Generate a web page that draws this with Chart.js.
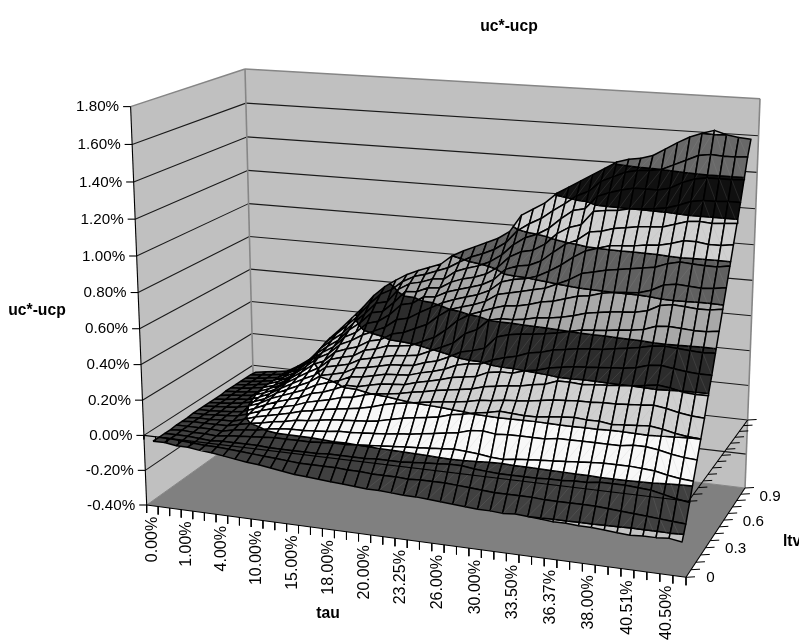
<!DOCTYPE html>
<html>
<head>
<meta charset="utf-8">
<title>uc*-ucp</title>
<script src="https://cdn.jsdelivr.net/npm/chart.js@4/dist/chart.umd.min.js"></script>
<style>
    html, body { margin: 0; padding: 0; background: #fff; overflow: hidden; }
    #wrap { width: 799px; height: 641px; }
</style>
</head>
<body>
<div id="wrap"><canvas id="chart" width="799" height="641"></canvas></div>
<script>
// tau labels sit on every third category, 44 categories in all
const tauLabels = ['0.00%', '1.00%', '4.00%', '10.00%', '15.00%', '18.00%', '20.00%', '23.25%', '26.00%', '30.00%', '33.50%', '36.37%', '38.00%', '40.51%', '40.50%']
const ltvLabels = ['0', '0.3', '0.6', '0.9']
const valueTicks = [1.8, 1.6, 1.4, 1.2, 1.0, 0.8, 0.6, 0.4, 0.2, 0.0, -0.2, -0.4]

// surface values in percent, one array per tau category, ltv running front to back
const tau00 = [-.04,-.04,-.04,-.04,-.035,-.035,-.035,-.03,-.03,-.03,-.03,-.03,-.03,-.025,-.025,-.025,-.025,-.025,-.025,-.03]
const tau01 = [-.04,-.04,-.04,-.035,-.035,-.03,-.03,-.03,-.03,-.025,-.025,-.025,-.02,-.02,-.02,-.02,-.02,-.02,-.02,-.02]
const tau02 = [-.05,-.045,-.04,-.04,-.035,-.03,-.03,-.025,-.025,-.02,-.02,-.015,-.015,-.015,-.01,-.01,-.01,-.01,-.01,-.01]
const tau03 = [-.05,-.05,-.045,-.04,-.035,-.03,-.025,-.02,-.02,-.015,-.01,-.01,-.005,-.005,0,0,0,0,0,0]
const tau04 = [-.06,-.055,-.05,-.045,-.04,-.03,-.025,-.015,-.01,0,.005,.01,.015,.02,.02,.025,.03,.035,.035,.04]
const tau05 = [-.065,-.055,-.045,-.035,-.025,-.015,-.005,.005,.015,.025,.03,.04,.045,.05,.055,.06,.065,.07,.08,.085]
const tau06 = [-.075,-.06,-.045,-.03,-.015,0,.015,.03,.045,.06,.07,.08,.09,.10,.11,.12,.125,.135,.14,.15]
const tau07 = [-.085,-.065,-.045,-.025,-.01,.01,.03,.05,.07,.085,.10,.115,.13,.145,.16,.175,.195,.21,.225,.235]
const tau08 = [-.095,-.07,-.045,-.02,.005,.025,.045,.07,.09,.11,.13,.15,.17,.195,.215,.23,.245,.265,.285,.30]
const tau09 = [-.10,-.075,-.05,-.015,.015,.035,.06,.085,.11,.135,.16,.18,.205,.225,.25,.27,.29,.315,.345,.37]
const tau10 = [-.11,-.08,-.05,-.015,.02,.05,.08,.11,.14,.17,.205,.235,.26,.285,.31,.335,.36,.385,.41,.44]
const tau11 = [-.12,-.085,-.05,-.015,.02,.055,.09,.125,.155,.19,.22,.25,.28,.31,.34,.37,.41,.445,.485,.52]
const tau12 = [-.13,-.09,-.05,-.015,.025,.065,.105,.14,.18,.21,.235,.265,.295,.33,.38,.43,.475,.515,.55,.58]
const tau13 = [-.135,-.09,-.05,-.01,.03,.075,.115,.16,.21,.24,.27,.30,.335,.37,.41,.45,.49,.53,.585,.625]
const tau14 = [-.14,-.09,-.045,-.005,.04,.08,.125,.17,.21,.245,.28,.315,.35,.385,.44,.495,.55,.61,.64,.665]
const tau15 = [-.145,-.09,-.045,-.005,.04,.085,.135,.19,.225,.26,.295,.33,.375,.425,.49,.56,.62,.65,.675,.695]
const tau16 = [-.15,-.095,-.045,0,.045,.09,.15,.205,.24,.275,.31,.345,.38,.44,.505,.575,.625,.665,.695,.72]
const tau17 = [-.155,-.095,-.045,.005,.05,.10,.17,.21,.245,.28,.315,.35,.39,.47,.545,.62,.655,.69,.72,.745]
const tau18 = [-.16,-.10,-.04,.01,.055,.115,.185,.22,.25,.285,.32,.36,.42,.50,.58,.625,.66,.695,.745,.80]
const tau19 = [-.16,-.10,-.04,.015,.065,.13,.195,.235,.27,.305,.345,.39,.45,.555,.615,.66,.70,.745,.785,.835]
const tau20 = [-.165,-.10,-.04,.02,.07,.14,.205,.245,.285,.32,.36,.42,.50,.60,.64,.68,.725,.77,.82,.865]
const tau21 = [-.17,-.105,-.035,.025,.08,.15,.215,.26,.30,.34,.39,.45,.56,.62,.66,.70,.74,.79,.845,.895]
const tau22 = [-.17,-.10,-.03,.03,.09,.16,.225,.27,.32,.37,.425,.51,.60,.64,.68,.72,.765,.82,.875,.925]
const tau23 = [-.175,-.10,-.025,.035,.10,.18,.23,.28,.33,.385,.44,.54,.625,.665,.71,.755,.81,.865,.92,.97]
const tau24 = [-.18,-.10,-.02,.04,.11,.19,.24,.29,.34,.39,.46,.60,.65,.71,.765,.82,.875,.93,.995,1.07]
const tau25 = [-.185,-.105,-.02,.035,.13,.205,.255,.31,.37,.42,.53,.615,.67,.725,.785,.845,.91,.975,1.04,1.11]
const tau26 = [-.19,-.11,-.03,.03,.135,.215,.26,.32,.38,.44,.55,.615,.675,.74,.795,.855,.925,1.0,1.075,1.15]
const tau27 = [-.195,-.115,-.035,.02,.125,.23,.27,.33,.38,.455,.56,.625,.69,.755,.815,.885,.965,1.04,1.125,1.21]
const tau28 = [-.195,-.12,-.04,.015,.13,.225,.275,.335,.40,.48,.565,.64,.71,.77,.85,.94,1.03,1.10,1.17,1.25]
const tau29 = [-.20,-.12,-.04,.025,.13,.22,.28,.35,.41,.49,.575,.645,.72,.80,.89,.99,1.07,1.15,1.22,1.29]
const tau30 = [-.195,-.12,-.04,.03,.13,.22,.29,.36,.43,.51,.585,.655,.74,.83,.94,1.02,1.09,1.165,1.25,1.33]
const tau31 = [-.20,-.12,-.04,.035,.13,.23,.30,.385,.44,.52,.60,.67,.76,.87,.98,1.07,1.17,1.24,1.31,1.37]
const tau32 = [-.205,-.125,-.035,.04,.14,.235,.305,.385,.45,.53,.615,.69,.77,.885,1.0,1.08,1.18,1.265,1.34,1.41]
const tau33 = [-.21,-.125,-.035,.045,.14,.24,.31,.38,.455,.535,.62,.70,.79,.90,1.02,1.10,1.185,1.285,1.37,1.43]
const tau34 = [-.21,-.125,-.03,.05,.14,.235,.31,.385,.46,.54,.625,.71,.80,.91,1.025,1.11,1.20,1.30,1.385,1.44]
const tau35 = [-.215,-.125,-.03,.055,.14,.235,.315,.39,.465,.55,.635,.715,.805,.92,1.03,1.12,1.205,1.30,1.39,1.46]
const tau36 = [-.215,-.125,-.02,.06,.14,.225,.315,.395,.47,.56,.64,.72,.81,.93,1.04,1.125,1.21,1.30,1.40,1.50]
const tau37 = [-.22,-.13,-.02,.06,.14,.23,.32,.40,.48,.57,.65,.735,.83,.94,1.045,1.13,1.22,1.315,1.43,1.54]
const tau38 = [-.225,-.135,-.02,.06,.15,.235,.325,.41,.50,.585,.675,.77,.865,.965,1.06,1.15,1.24,1.35,1.46,1.575]
const tau39 = [-.23,-.14,-.025,.055,.15,.24,.33,.42,.505,.59,.68,.78,.875,.98,1.08,1.17,1.265,1.375,1.49,1.60]
const tau40 = [-.225,-.145,-.03,.05,.14,.23,.32,.41,.495,.585,.675,.775,.87,.975,1.08,1.175,1.275,1.385,1.50,1.62]
const tau41 = [-.225,-.15,-.045,.035,.125,.215,.305,.395,.485,.58,.67,.77,.865,.97,1.07,1.17,1.275,1.385,1.495,1.60]
const tau42 = [-.22,-.155,-.06,.025,.115,.205,.295,.39,.48,.575,.67,.77,.87,.97,1.07,1.175,1.28,1.385,1.495,1.59]
const tau43 = [-.23,-.16,-.07,.02,.11,.20,.29,.39,.48,.58,.68,.78,.88,.98,1.08,1.18,1.28,1.39,1.50,1.585]

const surface = [tau00, tau01, tau02, tau03, tau04, tau05, tau06, tau07, tau08, tau09, tau10, tau11, tau12, tau13, tau14, tau15, tau16, tau17, tau18, tau19, tau20, tau21,
    tau22, tau23, tau24, tau25, tau26, tau27, tau28, tau29, tau30, tau31, tau32, tau33, tau34, tau35, tau36, tau37, tau38, tau39, tau40, tau41, tau42, tau43]

// one shade per 0.2% band, lowest band first
const bandColors = ['#c4c4c4', '#404040', '#f8f8f8', '#d0d0d0', '#2c2c2c', '#a8a8a8', '#606060', '#d0d0d0', '#101010', '#686868', '#b4b4b4']
const zMin = -0.4
const zMax = 1.8
const bandStep = 0.2

const ltvTickCount = 13
const fontName = '"Liberation Sans", Arial, sans-serif'

// box corners in canvas pixels: floor and ceiling of the 3d box
const floorCorners = [[146.7, 505], [686, 577.3], [745, 488], [254.5, 428]]
const ceilCorners = [[130.6, 106.6], [699.5, 142], [760, 98.7], [245, 69]]

function make_homography(q) {
    let [x0, y0] = q[0], [x1, y1] = q[1], [x2, y2] = q[2], [x3, y3] = q[3]
    let dx1 = x1 - x2, dx2 = x3 - x2, sx = x0 - x1 + x2 - x3
    let dy1 = y1 - y2, dy2 = y3 - y2, sy = y0 - y1 + y2 - y3
    let den = dx1 * dy2 - dx2 * dy1
    let g = (sx * dy2 - dx2 * sy) / den
    let h = (dx1 * sy - sx * dy1) / den
    let a = x1 - x0 + g * x1, b = x3 - x0 + h * x3
    let d = y1 - y0 + g * y1, e = y3 - y0 + h * y3
    return (u, v) => {
        let w = g * u + h * v + 1
        return [(a * u + b * v + x0) / w, (d * u + e * v + y0) / w]
    }
}

const floorMap = make_homography(floorCorners)
const ceilMap = make_homography(ceilCorners)

// u along tau, v along ltv, z is the value in percent
function project(u, v, z) {
    let w = (z - zMin) / (zMax - zMin)
    let t = w / (w + 1.05 * (1 - w))
    let f = floorMap(u, v), c = ceilMap(u, v)
    return { x: f[0] + (c[0] - f[0]) * t, y: f[1] + (c[1] - f[1]) * t }
}

const marks = []

function add_shape(points, fillColor, lineColor, lineWidth) {
    let data = points.slice()
    data.push(points[0])
    marks.push({
        data: data,
        showLine: true,
        pointRadius: 0,
        fill: 'shape',
        backgroundColor: fillColor,
        borderColor: lineColor || fillColor,
        borderWidth: lineWidth || 0,
        borderJoinStyle: 'round'
    })
}

function add_line(a, b, color, width) {
    marks.push({
        data: [a, b],
        showLine: true,
        pointRadius: 0,
        fill: false,
        borderColor: color,
        borderWidth: width
    })
}

function clip_band(poly, level, keepAbove) {
    let out = []
    for (let i = 0; i < poly.length; i++) {
        let a = poly[i], b = poly[(i + 1) % poly.length]
        let inA = keepAbove ? a.z >= level : a.z <= level
        let inB = keepAbove ? b.z >= level : b.z <= level
        if (inA) out.push(a)
        if (inA !== inB) {
            let t = (level - a.z) / (b.z - a.z)
            out.push({ u: a.u + (b.u - a.u) * t, v: a.v + (b.v - a.v) * t, z: level })
        }
    }
    return out
}

function add_cell(i, j) {
    let nTau = surface.length, nLtv = surface[0].length
    let node = (c, r) => ({ u: (c + 0.5) / nTau, v: (r + 0.5) / nLtv, z: surface[c][r] })
    let cell = [node(i, j), node(i + 1, j), node(i + 1, j + 1), node(i, j + 1)]
    for (let b = 0; b < bandColors.length; b++) {
        let lo = zMin + b * bandStep
        let hi = lo + bandStep
        let piece = clip_band(clip_band(cell, lo, true), hi, false)
        if (piece.length < 3) continue
        add_shape(piece.map(p => project(p.u, p.v, p.z)), bandColors[b], '#000', 1.5)
    }
    // faint seam where the cell folds along its diagonal
    if (i >= 18) {
        let a = i >= 40 ? cell[1] : cell[0]
        let c = i >= 40 ? cell[3] : cell[2]
        add_line(project(a.u, a.v, a.z), project(c.u, c.v, c.z), 'rgba(165,165,165,0.3)', 0.5)
    }
}

function build_marks() {
    let wallGrey = '#c0c0c0', edgeGrey = '#868686', gridColor = '#1a1a1a'

    add_shape([project(0, 0, zMin), project(0, 0, zMax), project(0, 1, zMax), project(0, 1, zMin)], wallGrey)
    add_shape([project(0, 1, zMin), project(0, 1, zMax), project(1, 1, zMax), project(1, 1, zMin)], wallGrey)
    add_shape([project(0, 0, zMin), project(1, 0, zMin), project(1, 1, zMin), project(0, 1, zMin)], '#808080')

    valueTicks.forEach(z => {
        if (z === zMin || z === zMax) return
        add_line(project(0, 0, z), project(0, 1, z), gridColor, 1.1)
        add_line(project(0, 1, z), project(1, 1, z), gridColor, 1.1)
    })

    add_line(project(0, 0, zMax), project(0, 1, zMax), edgeGrey, 1.5)
    add_line(project(0, 1, zMax), project(1, 1, zMax), edgeGrey, 1.5)
    add_line(project(0, 1, zMin), project(0, 1, zMax), edgeGrey, 1.6)
    add_line(project(1, 1, zMin), project(1, 1, zMax), edgeGrey, 1.6)
    add_line(project(0, 1, zMin), project(1, 1, zMin), edgeGrey, 1)
    add_line(project(0, 0, zMin), project(0, 1, zMin), edgeGrey, 1)

    // value axis
    add_line(project(0, 0, zMin), project(0, 0, zMax), '#000', 1.1)
    valueTicks.forEach(z => {
        let p = project(0, 0, z)
        add_line(p, { x: p.x - 7.5, y: p.y }, '#000', 1.1)
    })

    // surface, back rows first, left to right
    for (let j = surface[0].length - 2; j >= 0; j--) {
        for (let i = 0; i < surface.length - 1; i++) add_cell(i, j)
    }

    // axes: floor edges and the zero plane edges, both carry tick marks
    let nTau = surface.length
    ;[zMin, 0].forEach(z => {
        add_line(project(0, 0, z), project(1, 0, z), '#000', 1.1)
        for (let k = 0; k <= nTau; k++) {
            // the zero plane ticks only stand clear of the surface at the low tau end
            if (z === 0 && k > 4) break
            let p = project(k / nTau, 0, z)
            add_line(p, { x: p.x, y: p.y + (z === 0 ? 4 : 8) }, '#000', 1)
        }
        add_line(project(1, 0, z), project(1, 1, z), '#000', 1.1)
        for (let k = 0; k <= ltvTickCount; k++) {
            let p = project(1, k / ltvTickCount, z)
            add_line(p, { x: p.x + 9, y: p.y - 0.5 }, '#000', 1)
        }
    })

    marks.reverse()
}

build_marks()

// axis text is placed from the same projection as the marks
const axisText = {
    id: 'axisText',
    afterDraw(chart) {
        let ctx = chart.ctx
        let sx = chart.scales.x, sy = chart.scales.y
        let at = (p) => [sx.getPixelForValue(p.x), sy.getPixelForValue(p.y)]
        ctx.save()
        ctx.fillStyle = '#000'
        ctx.textBaseline = 'middle'

        ctx.font = '15.2px ' + fontName
        ctx.textAlign = 'right'
        valueTicks.forEach(z => {
            let [x, y] = at(project(0, 0, z))
            ctx.fillText(z.toFixed(2) + '%', x - 11.5, y + 0.5)
        })

        ctx.font = '16px ' + fontName
        tauLabels.forEach((label, n) => {
            let [x, y] = at(project((n * 3 + 0.5) / surface.length, 0, zMin))
            ctx.save()
            ctx.translate(x, y + 11)
            ctx.rotate(-Math.PI / 2)
            ctx.textAlign = 'right'
            ctx.fillText(label, 0, 0)
            ctx.restore()
        })

        ctx.font = '15.2px ' + fontName
        ctx.textAlign = 'left'
        ltvLabels.forEach((label, n) => {
            let [x, y] = at(project(1, (n * 6 + 0.5) / surface[0].length, zMin))
            ctx.fillText(label, x + 18.5, y + 2.5)
        })

        ctx.font = 'bold 15.7px ' + fontName
        ctx.textAlign = 'center'
        ctx.fillText('uc*-ucp', 509, 27)
        ctx.fillText('uc*-ucp', 37, 311)
        ctx.fillText('tau', 328, 614)
        ctx.textAlign = 'left'
        ctx.fillText('ltv', 783, 542)
        ctx.restore()
    }
}

new Chart(document.getElementById('chart'), {
    type: 'scatter',
    data: { datasets: marks },
    plugins: [axisText],
    options: {
        responsive: false,
        animation: false,
        events: [],
        layout: { padding: 0 },
        plugins: {
            legend: { display: false },
            tooltip: { enabled: false },
            title: { display: false }
        },
        scales: {
            x: { type: 'linear', display: false, min: 0, max: 799 },
            y: { type: 'linear', display: false, min: 0, max: 641, reverse: true }
        }
    }
})
</script>
</body>
</html>
